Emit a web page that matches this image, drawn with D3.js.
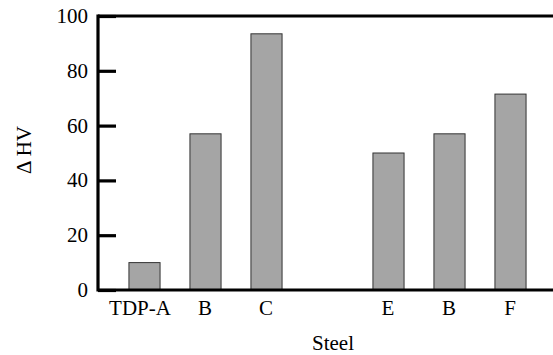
<!DOCTYPE html>
<meta charset="utf-8">
<body style="margin:0">
<svg id="svg" width="553" height="355" font-family="Liberation Serif"></svg>
<script src="https://d3js.org/d3.v7.min.js"></script>
<script>

// steel labels, one empty slot between C and E
let steels = ['TDP-A', 'B', 'C', '', 'E', 'B', 'F']
let deltaHV = [10, 57, 93.5, null, 50, 57, 71.5]
let yTicks = [0, 20, 40, 60, 80, 100]

let svg = d3.select('#svg')
let plotLeft = 98, plotTop = 16, plotBottom = 290, plotRight = 553

let x = d3.scaleBand()
    .domain(d3.range(steels.length))
    .range([113.5, 540.5])
    .paddingInner(0.49)
    .paddingOuter(0.245)

let y = d3.scaleLinear().domain([0, 100]).range([plotBottom, plotTop])

// bars
svg.selectAll('rect.bar')
    .data(deltaHV.map((v, i) => ({i: i, v: v})).filter(d => d.v !== null))
    .enter().append('rect')
    .attr('class', 'bar')
    .attr('x', d => x(d.i) + 0.5)
    .attr('y', d => y(d.v))
    .attr('width', x.bandwidth())
    .attr('height', d => y(0) - y(d.v))
    .attr('fill', '#a5a5a5')
    .attr('stroke', '#333')
    .attr('stroke-width', 1)

// left axis: inward ticks drawn by d3, labels as plain text
let yAxis = d3.axisRight(y).tickValues(yTicks).tickSize(18).tickFormat('')
let ya = svg.append('g')
    .attr('transform', 'translate(' + plotLeft + ',0)')
    .call(yAxis)
ya.select('.domain').remove()
ya.selectAll('line').attr('stroke', '#000').attr('stroke-width', 3.2)

svg.selectAll('text.ylab')
    .data(yTicks)
    .enter().append('text')
    .attr('class', 'ylab')
    .attr('x', plotLeft - 10)
    .attr('y', d => y(d) + 7)
    .attr('text-anchor', 'end')
    .attr('font-family', 'Liberation Serif')
    .attr('font-size', 21)
    .text(d => d)

// frame lines: left, top, bottom
let frame = [
    [plotLeft, plotTop - 1.6, plotLeft, plotBottom + 1.6],
    [plotLeft, plotTop, plotRight, plotTop],
    [plotLeft, plotBottom, plotRight, plotBottom]
]
svg.selectAll('line.frame')
    .data(frame)
    .enter().append('line')
    .attr('class', 'frame')
    .attr('x1', d => d[0]).attr('y1', d => d[1])
    .attr('x2', d => d[2]).attr('y2', d => d[3])
    .attr('stroke', '#000')
    .attr('stroke-width', 3.2)

// category labels
svg.selectAll('text.xlab')
    .data(steels)
    .enter().append('text')
    .attr('class', 'xlab')
    .attr('x', (d, i) => x(i) + x.bandwidth() / 2 - (i === 0 ? 4 : 0))
    .attr('y', 315)
    .attr('text-anchor', 'middle')
    .attr('font-family', 'Liberation Serif')
    .attr('font-size', 21)
    .text(d => d)

svg.append('text')
    .attr('x', 333)
    .attr('y', 350)
    .attr('text-anchor', 'middle')
    .attr('font-family', 'Liberation Serif')
    .attr('font-size', 21)
    .text('Steel')

svg.append('text')
    .attr('transform', 'translate(31,150) rotate(-90)')
    .attr('text-anchor', 'middle')
    .attr('font-family', 'Liberation Serif')
    .attr('font-size', 21)
    .text('Δ HV')

</script>
</body>
